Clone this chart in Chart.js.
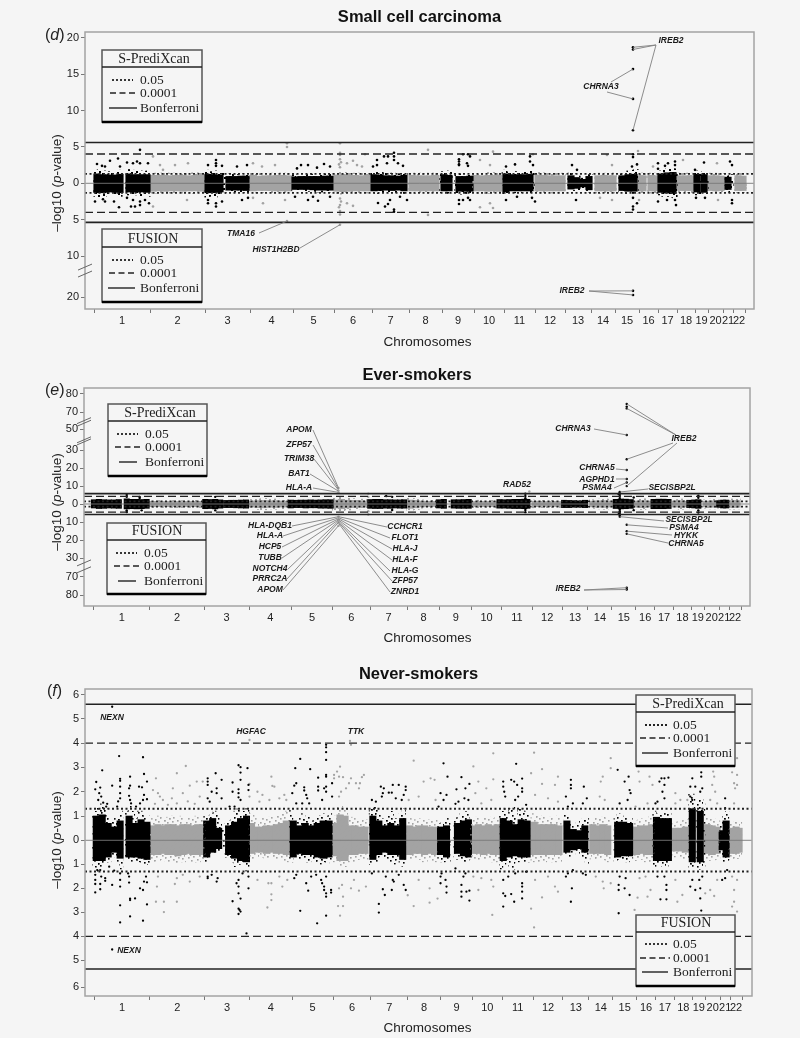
<!DOCTYPE html>
<html>
<head>
<meta charset="utf-8">
<title>Manhattan plots</title>
<script src="https://cdn.jsdelivr.net/npm/chart.js@4"></script>
<style>
body { margin: 0; background: #f5f5f5; }
canvas { position: absolute; left: 0; }
</style>
</head>
<body>
<canvas id="panelD" width="800" height="350" style="top:0"></canvas>
<canvas id="panelE" width="800" height="291" style="top:356px"></canvas>
<canvas id="panelF" width="800" height="380" style="top:657px"></canvas>
<script>
// chromosome boundaries along the genome axis
const chromStarts = [0, 56, 111, 156, 199, 240, 278, 315, 348, 380, 410, 441, 471, 497, 521, 545, 564, 583, 601, 614, 629, 639, 651];
const chromNames = ["1","2","3","4","5","6","7","8","9","10","11","12","13","14","15","16","17","18","19","20","21","22"];

// y axis ticks
const dTicks = [20, 15, 10, 5, 0, -5, -10, -20];
const eTicks = [80, 70, 50, 30, 20, 10, 0, -10, -20, -30, -70, -80];
const fTicks = [6, 5, 4, 3, 2, 1, 0, -1, -2, -3, -4, -5, -6];

// y axis is broken, [value, page y]
const dKnots = [[20.8, 32], [0, 183.3], [-10, 256], [-20, 297], [-23, 309]];
const eKnots = [[83.3, 388], [70, 412], [50, 429.3], [30, 450.3], [0, 504], [-30, 558.3], [-70, 576.7], [-86, 606]];
const fKnots = [[6.23, 689], [0, 840.3], [-5, 960.3], [-5.3, 969], [-6, 987], [-6.35, 996]];

// significance lines
const dLines = { dotted: [1.3, -1.33], dashed: [4.03, -4], solid: [5.6, -5.37] };
const eLines = { dotted: [1.5, -1.5], dashed: [4.3, -4.5], solid: [5.8, -5.8] };
const fLines = { dotted: [1.3, -1.3], dashed: [4, -4], solid: [5.6, -5.3] };

// outer envelope of the point clouds as [x, low, high]
const dCoreBlack = [[2,-1.8,1.8],[6,-1.9,1.9],[10,-1.8,1.7],[14,-1.7,1.6],[18,-1.6,1.5],[22,-1.7,1.6],[26,-1.8,1.8],
  [34,-1.6,1.9],[38,-1.7,1.8],[42,-1.6,1.7],[46,-1.7,1.7],[50,-1.7,1.6],[54,-1.8,1.7],
  [113,-1.9,1.8],[117,-1.8,1.6],[121,-1.9,1.7],[125,-1.7,1.5],[129,-1.5,1.4],[133,-1.2,1.2],[137,-1.2,1.3],[141,-1.2,1.2],[145,-1.2,1.2],[149,-1.2,1.3],[153,-1.2,1.3],
  [200,-1.1,1.2],[204,-1,1.1],[208,-1.1,1.2],[212,-1.1,1.2],[216,-1.1,1.3],[220,-1.1,1.2],[224,-1.2,1.2],[228,-1.2,1.2],[232,-1.2,1.3],[236,-1.2,1.3],
  [279,-1.3,1.6],[283,-1.4,1.5],[287,-1.3,1.5],[291,-1.2,1.4],[295,-1.2,1.3],[299,-1.3,1.4],[303,-1.2,1.3],[307,-1.2,1.3],[311,-1.4,1.5],
  [348,-1.3,1.6],[352,-1.4,1.7],[356,-1.3,1.5],[363,-1.4,1.2],[367,-1.5,1.3],[371,-1.4,1.2],[375,-1.4,1.3],
  [411,-1.5,1.8],[415,-1.3,1.5],[419,-1.3,1.6],[423,-1.3,1.6],[427,-1.3,1.6],[431,-1.3,1.6],[435,-1.3,1.6],[438,-1.3,1.8],
  [476,-1,1.4],[480,-1,1.3],[484,-0.9,1],[488,-0.7,0.7],[492,-1,1.1],[496,-1.2,1.2],
  [527,-1.2,1.3],[531,-1.4,1.5],[535,-1.4,1.7],[539,-1.4,1.8],[542,-1.2,1.9],
  [566,-1.6,1.7],[570,-1.8,1.9],[574,-1.8,2],[578,-1.9,2],[581,-2,2],
  [602,-1.6,1.7],[605,-1.5,1.5],[610,-1.7,1.6],[612,-1.6,1.6],
  [633,-1,1],[637,-1.4,1.2]];
const dCoreGray = [[59,-1.35,1.4],[65,-1.35,1.4],[71,-1.4,1.45],[77,-1.35,1.4],[83,-1.35,1.4],[89,-1.35,1.4],[95,-1.4,1.4],[101,-1.35,1.45],[107,-1.35,1.4],
  [159,-1.35,1.4],[165,-1.3,1.35],[171,-1.3,1.35],[177,-1.3,1.4],[183,-1.35,1.4],[189,-1.35,1.4],[195,-1.35,1.4],
  [243,-1.45,1.5],[249,-1.5,1.5],[255,-1.4,1.45],[261,-1.4,1.4],[267,-1.35,1.4],[273,-1.35,1.4],
  [318,-1.4,1.4],[324,-1.4,1.4],[330,-1.35,1.4],[336,-1.35,1.4],[342,-1.35,1.4],
  [382,-1.4,1.45],[388,-1.4,1.4],[394,-1.4,1.5],[400,-1.4,1.5],[405,-1.4,1.5],
  [444,-1.35,1.5],[450,-1.35,1.45],[456,-1.35,1.4],[462,-1.35,1.4],[468,-1.35,1.4],
  [504,-1.35,1.4],[510,-1.35,1.4],[516,-1.35,1.4],[519,-1.35,1.4],
  [546,-1.35,1.4],[549,-1.35,1.4],[557,-1.35,1.4],[561,-1.4,1.4],
  [586,-1.3,1.4],[592,-1.3,1.4],[597,-1.3,1.4],
  [616,-1.3,1.4],[622,-1.4,1.4],[627,-1.3,1.35],
  [644,-1.3,1.4],[649,-1.3,1.4]];
const eCoreBlack = [[0,-2.2,2.4],[5,-2.5,2.6],[10,-2.4,2.4],[15,-2.2,2.3],[20,-2.3,2.3],[25,-2.4,2.5],
  [33,-2.7,2.9],[38,-2.6,2.6],[43,-2.7,2.6],[48,-2.6,2.5],[53,-2.4,2.6],
  [112,-2.6,2.6],[117,-2.5,2.5],[122,-2.7,2.6],[127,-2.3,2.3],[133,-2,2],[138,-2,2.1],[143,-2.1,2.1],[148,-2.2,2.2],[153,-2.3,2.3],
  [198,-2.2,2.2],[203,-2,2.1],[208,-2,2.2],[213,-2.2,2.2],[218,-2.1,2.3],[223,-2.1,2.2],[228,-2.3,2.3],[233,-2.3,2.4],[238,-2.4,2.4],
  [278,-2.4,2.5],[283,-2.5,2.6],[288,-2.5,2.6],[293,-2.3,2.4],[298,-2.4,2.4],[303,-2.2,2.3],[308,-2.3,2.3],[312,-2.3,2.4],
  [347,-2.2,2.4],[352,-2.4,2.6],[362,-2.3,2.4],[367,-2.4,2.4],[372,-2.4,2.5],[377,-2.4,2.6],
  [408,-2.3,2.5],[413,-2.3,2.4],[418,-2.4,2.5],[423,-2.5,2.6],[428,-2.5,2.6],[433,-2.6,2.7],[436,-2.4,2.6],
  [473,-2,2.1],[478,-2,2],[483,-1.8,1.9],[488,-1.8,1.8],[494,-2,2.1],
  [525,-2.5,2.6],[530,-2.7,2.8],[535,-2.6,2.7],[540,-2.4,2.5],
  [563,-2.6,2.6],[568,-2.6,2.7],[573,-2.6,2.7],[578,-2.5,2.6],
  [599,-2,2.1],[604,-2.2,2.3],[608,-2.4,2.4],
  [629,-1.8,1.9],[633,-2.2,2.2],[636,-2.2,2.2]];
const eCoreGray = [[59,-2,2],[65,-2,2],[71,-1.9,2],[77,-1.9,1.9],[83,-2,2],[89,-2,1.9],[95,-1.9,1.9],[101,-2,2],[107,-2,2],
  [159,-2.6,2.5],[165,-3,2.8],[171,-3.2,3.1],[177,-2.7,2.6],[183,-2.9,2.8],[189,-2.6,2.6],[195,-2.5,2.4],
  [243,-3.4,3.4],[249,-4,4],[255,-3.3,3.2],[261,-3,3],[267,-2.7,2.7],[273,-2.6,2.5],
  [318,-3.5,3.2],[324,-3.1,3],[330,-2.3,2.3],[336,-2.1,2.1],[342,-2,2.1],
  [382,-2,2],[388,-2.1,2.1],[394,-2,2],[400,-2,2],[405,-2.1,2],
  [444,-2.1,2.2],[450,-2,2.1],[456,-2,2],[462,-2,2],[468,-2,2],
  [502,-2.4,2.4],[508,-2.7,2.7],[514,-2.9,2.8],[519,-2.6,2.6],
  [546,-2.7,2.6],[552,-3,2.9],[558,-2.6,2.5],[561,-2.2,2.2],
  [585,-2.5,2.5],[591,-2.9,2.8],[596,-2.3,2.3],
  [616,-2.3,2.3],[622,-2.7,2.7],[627,-2.3,2.3],
  [642,-2.8,2.8],[647,-2.7,2.8]];
const fCoreBlack = [[0,-1.1,1.3],[3,-1.3,1.4],[6,-1.1,1.5],[9,-1,1.4],[12,-0.9,1.3],[15,-0.9,0.9],[18,-0.7,0.9],[21,-0.6,0.9],[24,-0.9,1],[27,-1.2,1.2],
  [33,-0.8,1.2],[36,-0.8,1.4],[39,-0.9,1.2],[42,-0.9,0.9],[45,-0.9,1.2],[48,-1,1.2],[51,-1,1],[54,-1,1],
  [112,-0.9,1.1],[115,-0.7,1],[118,-0.6,1.1],[121,-0.6,1.2],[124,-0.5,1.1],[127,-0.5,0.7],[130,-0.5,0.5],[133,-0.7,0.7],[136,-0.8,0.8],[139,-0.9,0.9],[142,-1.1,1.2],[145,-1,1.3],[148,-1,1.3],[151,-1,1.2],[154,-1.3,1.4],
  [198,-0.9,1.3],[201,-0.7,0.7],[204,-0.8,0.8],[207,-0.8,0.9],[210,-0.7,1.1],[213,-0.9,0.9],[216,-0.9,1],[219,-0.8,0.8],[222,-0.9,0.9],[225,-0.9,1],[228,-1,1],[231,-0.9,1.1],[234,-1,1],[237,-0.8,1.1],
  [278,-1,1.4],[281,-1,1.4],[284,-0.9,1.4],[287,-0.7,1.1],[290,-0.7,0.9],[293,-0.7,0.9],[296,-0.8,1],[299,-0.9,1.2],[302,-1,0.9],[305,-0.8,0.9],[308,-1,1.1],[311,-1.1,1.3],
  [347,-0.8,0.7],[350,-0.9,0.8],[353,-0.9,0.8],[356,-1,0.9],[363,-0.7,0.9],[366,-0.8,1],[369,-0.8,1.1],[372,-0.9,1.1],[375,-0.9,1.2],
  [409,-1.2,1.3],[412,-1,1.3],[415,-0.8,1],[418,-1.1,1.3],[421,-1.2,1.4],[424,-0.9,0.9],[427,-0.9,1.3],[430,-0.9,1.3],[433,-0.9,1.2],[436,-0.9,1.1],
  [474,-0.6,1.1],[477,-0.7,1],[480,-0.6,0.7],[483,-0.5,0.4],[486,-0.6,0.8],[489,-0.4,0.5],[492,-0.7,0.9],[495,-1,0.9],
  [524,-0.9,0.9],[527,-0.8,1.1],[530,-0.8,1],[533,-0.8,0.9],[536,-0.9,1],[539,-0.8,0.9],
  [563,-1.1,1.2],[566,-1,1.1],[569,-0.9,1.1],[572,-1.1,1.1],[575,-1.1,1.1],[578,-1,1.1],
  [599,-1.2,1.9],[602,-1.1,1.9],[607,-1.2,1.7],[610,-1.2,1.7],[612,-1.1,1.5],
  [630,-0.6,0.6],[633,-0.9,1],[636,-0.9,1.2]];
const fCoreGray = [[59,-0.9,0.9],[64,-0.85,1],[69,-0.8,0.95],[74,-0.9,0.95],[79,-0.85,1],[84,-0.95,0.9],[89,-0.9,1],[94,-0.8,0.95],[99,-0.9,0.95],[104,-0.9,1],[109,-0.85,1],
  [158,-0.8,1.1],[163,-0.7,0.9],[168,-0.7,0.9],[173,-0.8,0.9],[178,-0.7,0.95],[183,-0.8,1],[188,-0.8,1.1],[193,-0.9,1.2],
  [242,-0.9,1],[247,-1.1,1.4],[252,-1.1,1.3],[257,-0.9,0.95],[262,-0.9,0.9],[267,-0.8,0.85],[272,-0.8,0.85],
  [317,-0.85,0.9],[322,-0.8,0.85],[327,-0.8,0.9],[332,-0.9,0.9],[337,-0.8,0.85],[342,-0.9,0.85],
  [381,-0.8,0.9],[386,-0.8,0.95],[391,-0.85,0.9],[396,-0.8,0.95],[401,-0.9,0.9],[405,-0.9,1],
  [442,-0.9,1.1],[447,-0.9,1],[452,-0.9,0.95],[457,-0.85,0.95],[462,-0.9,1],[467,-0.9,0.9],
  [501,-0.8,0.95],[506,-0.8,0.9],[511,-0.8,0.95],[516,-0.9,0.9],
  [545,-0.85,0.8],[549,-0.8,0.9],[555,-0.9,0.9],[560,-0.9,1],
  [584,-0.7,0.75],[589,-0.7,0.8],[594,-0.8,0.85],
  [616,-0.8,0.95],[621,-0.85,0.9],[626,-0.8,0.8],
  [640,-0.8,0.7],[645,-0.75,0.75],[648,-0.75,0.75]];

// solid middle of the clouds as [x, low, high]
const dSolidBlack = [[3,-1.3,1.3],[9,-1.3,1.2],[15,-1.2,1.15],[21,-1.2,1.15],[26,-1.3,1.25],[35,-1.2,1.3],[41,-1.2,1.2],[47,-1.2,1.2],[53,-1.25,1.2],
  [114,-1.3,1.25],[120,-1.3,1.2],[126,-1.2,1.1],[135,-0.95,0.95],[141,-0.95,0.95],[147,-0.95,1],[152,-1,1],
  [201,-0.85,0.9],[207,-0.85,0.95],[213,-0.85,0.95],[219,-0.9,0.95],[225,-0.95,0.95],[231,-0.95,1],[236,-0.95,1],
  [280,-1.05,1.2],[286,-1,1.1],[292,-0.95,1.05],[298,-1,1.05],[304,-0.95,1],[310,-1.05,1.1],
  [350,-1.05,1.2],[355,-1.05,1.1],[365,-1.1,0.95],[371,-1.1,0.95],[376,-1.1,1],
  [412,-1.15,1.3],[418,-1.05,1.2],[424,-1.05,1.2],[430,-1.05,1.2],[436,-1.05,1.25],
  [477,-0.8,1.05],[483,-0.7,0.8],[489,-0.5,0.55],[495,-0.9,0.95],
  [528,-1,1.05],[534,-1.1,1.2],[540,-1.1,1.25],
  [567,-1.25,1.3],[573,-1.35,1.45],[579,-1.4,1.5],
  [603,-1.2,1.25],[610,-1.25,1.2],
  [634,-0.85,0.85]];
const dSolidGray = [[59,-1.1,1.1],[65,-1.05,1.1],[71,-1.1,1.1],[77,-1.05,1.05],[83,-1.05,1.1],[89,-1.1,1.1],[95,-1.05,1.05],[101,-1.05,1.1],[107,-1.1,1.1],
  [159,-1.05,1.1],[165,-1,1],[171,-1,1.05],[177,-1,1.05],[183,-1.05,1.1],[189,-1.05,1.1],[195,-1.05,1.05],
  [243,-1.1,1.15],[249,-1.15,1.2],[255,-1.1,1.1],[261,-1.05,1.1],[267,-1.05,1.05],[273,-1.05,1.1],
  [318,-1.05,1.1],[324,-1.05,1.05],[330,-1.05,1.05],[336,-1.05,1.05],[342,-1.05,1.1],
  [382,-1.05,1.1],[388,-1.05,1.05],[394,-1.1,1.1],[400,-1.05,1.1],[405,-1.1,1.15],
  [444,-1.05,1.15],[450,-1.05,1.1],[456,-1.05,1.05],[462,-1.05,1.05],[468,-1.05,1.05],
  [504,-1.05,1.05],[510,-1.05,1.1],[516,-1.05,1.05],[519,-1.05,1.05],
  [546,-1.05,1.05],[549,-1.05,1.05],[557,-1.05,1.1],[561,-1.05,1.05],
  [586,-1,1.05],[592,-1,1.05],[597,-1,1.05],
  [616,-1,1.05],[622,-1.05,1.05],[627,-1,1],
  [644,-1,1.05],[649,-1,1]];
const eSolidGray = [[59,-1.5,1.5],[65,-1.4,1.5],[71,-1.4,1.4],[77,-1.4,1.4],[83,-1.5,1.4],[89,-1.5,1.4],[95,-1.4,1.4],[101,-1.4,1.5],[107,-1.5,1.5],
  [159,-1.7,1.7],[165,-2,1.9],[171,-2.1,2],[177,-1.8,1.8],[183,-1.9,1.9],[189,-1.7,1.7],[195,-1.6,1.6],
  [243,-2.2,2.2],[249,-2.6,2.6],[255,-2.2,2.1],[261,-2,2],[267,-1.8,1.8],[273,-1.7,1.7],
  [318,-2.4,2.2],[324,-2.1,2],[330,-1.6,1.6],[336,-1.5,1.5],[342,-1.4,1.5],
  [382,-1.4,1.4],[388,-1.5,1.5],[394,-1.4,1.4],[400,-1.4,1.4],[405,-1.5,1.4],
  [444,-1.5,1.6],[450,-1.4,1.5],[456,-1.4,1.4],[462,-1.4,1.4],[468,-1.4,1.4],
  [502,-1.6,1.6],[508,-1.8,1.8],[514,-1.9,1.9],[519,-1.7,1.7],
  [546,-1.8,1.7],[552,-2,1.9],[558,-1.7,1.7],[561,-1.5,1.5],
  [585,-1.7,1.7],[591,-1.9,1.9],[596,-1.6,1.6],
  [616,-1.6,1.6],[622,-1.8,1.8],[627,-1.6,1.6],
  [642,-1.9,1.9],[647,-1.8,1.9]];
const fSolidBlack = [[2,-0.85,1],[8,-0.85,1.05],[14,-0.7,0.7],[20,-0.5,0.55],[26,-0.75,0.8],[35,-0.7,1],[41,-0.7,0.7],[47,-0.75,0.85],[53,-0.8,0.75],
  [113,-0.7,0.8],[119,-0.5,0.9],[125,-0.35,0.5],[135,-0.6,0.6],[141,-0.75,0.75],[147,-0.85,0.9],[153,-0.9,1],
  [200,-0.7,0.8],[206,-0.55,0.6],[212,-0.6,0.7],[218,-0.6,0.6],[224,-0.7,0.7],[230,-0.75,0.8],[236,-0.7,0.8],
  [280,-0.8,1],[286,-0.6,0.8],[292,-0.5,0.6],[298,-0.6,0.7],[304,-0.6,0.6],[310,-0.8,0.9],
  [348,-0.6,0.55],[354,-0.7,0.6],[365,-0.55,0.7],[371,-0.65,0.8],[376,-0.7,0.85],
  [411,-0.85,0.9],[417,-0.7,0.8],[423,-0.65,0.65],[429,-0.7,0.85],[435,-0.7,0.8],
  [475,-0.5,0.8],[481,-0.4,0.45],[487,-0.35,0.4],[493,-0.5,0.6],
  [526,-0.7,0.75],[532,-0.65,0.75],[538,-0.65,0.7],
  [565,-0.85,0.95],[571,-0.85,0.9],[577,-0.85,0.9],
  [601,-0.9,1.3],[609,-0.9,1.2],
  [631,-0.4,0.4],[635,-0.7,0.8]];
const fSolidGray = [[59,-0.6,0.6],[64,-0.6,0.65],[69,-0.55,0.6],[74,-0.6,0.65],[79,-0.6,0.65],[84,-0.65,0.6],[89,-0.6,0.65],[94,-0.55,0.65],[99,-0.6,0.6],[104,-0.6,0.65],[109,-0.6,0.65],
  [158,-0.55,0.7],[163,-0.5,0.55],[168,-0.5,0.55],[173,-0.55,0.6],[178,-0.5,0.6],[183,-0.55,0.65],[188,-0.55,0.7],[193,-0.6,0.8],
  [242,-0.65,0.7],[247,-0.85,1.05],[252,-0.85,1],[257,-0.6,0.6],[262,-0.6,0.6],[267,-0.55,0.55],[272,-0.55,0.55],
  [317,-0.6,0.6],[322,-0.55,0.55],[327,-0.55,0.6],[332,-0.6,0.6],[337,-0.55,0.55],[342,-0.6,0.55],
  [381,-0.55,0.6],[386,-0.55,0.65],[391,-0.6,0.6],[396,-0.55,0.65],[401,-0.6,0.6],[405,-0.6,0.65],
  [442,-0.6,0.75],[447,-0.6,0.65],[452,-0.6,0.65],[457,-0.6,0.65],[462,-0.6,0.65],[467,-0.6,0.6],
  [501,-0.55,0.65],[506,-0.55,0.6],[511,-0.55,0.65],[516,-0.6,0.6],
  [545,-0.6,0.55],[549,-0.55,0.6],[555,-0.6,0.6],[560,-0.6,0.65],
  [584,-0.45,0.5],[589,-0.45,0.5],[594,-0.5,0.55],
  [616,-0.55,0.65],[621,-0.6,0.6],[626,-0.55,0.55],
  [640,-0.55,0.5],[645,-0.55,0.55],[648,-0.5,0.5]];

// scattered points, [x, value]
const dPointsBlack = [[46,4.6],[24,3.4],[16,3.1],[43,3],[46,2.75],[54,2.75],[3,2.66],[33,2.85],[39,2.75],[8,2.4],[11,2.3],[26,2.3],
  [122,3.2],[122,2.75],[122,2.4],[114,2.5],[128,2.4],[153,2.5],[143,2.3],[207,2.5],[214,2.5],[230,2.65],[203,2.05],[223,2.15],[236,2.3],
  [290,3.7],[294,3.7],[300,4.2],[300,3.7],[300,3.2],[283,3.2],[283,2.5],[293,2.75],[304,2.75],[309,2.4],[279,2.3],
  [1,-2.5],[11,-2.5],[20,-2.5],[25,-3.3],[37,-3.2],[41,-3.2],[46,-2.5],[46,-3],[55,-2.75],[9,-2.2],[33,-2],[39,-2.3],[51,-2.3],
  [114,-2.3],[114,-2.75],[122,-3.2],[122,-2.75],[128,-2.5],[148,-2.3],[154,-2],[201,-1.85],[214,-2.3],[224,-2.4],[219,-1.85],[236,-1.85],
  [300,-3.6],[300,-3.9],[284,-2.7],[291,-3.2],[294,-2.85],[296,-2.3],[313,-2.3],[306,-1.85],
  [365,3.3],[365,3],[365,2.6],[365,2.5],[369,4],[374,4],[376,3.7],[373,2.75],[374,2.4],[365,-2.3],[365,-2.85],[369,-2.3],[374,-2],[376,-2.3],
  [421,2.6],[436,3.7],[436,3],[439,2.5],[412,2.3],[412,-2.3],[438,-2],[441,-2.5],[423,-1.85],[478,2.5],[483,1.85],[482,-2.3],
  [539,18.7],[539,18.4],[539,15.7],[539,11.6],[539,7.3],[539,-18.5],[539,-19.5],
  [539,4],[539,3.6],[543,2.6],[538,2.3],[539,-3.2],[539,-3.6],[543,-2.75],[539,-2],
  [564,2.75],[564,2],[571,2.4],[574,2.75],[581,3],[581,2.5],[564,-2.5],[573,-2.3],[581,-2.3],[582,-3],
  [610,2.85],[601,1.85],[602,-2],[611,-2],[636,3],[638,2.5],[638,-2.75],[638,-2.3]];
const dPointsGray = [[193,5.5],[193,5],[193,-5.2],[246,5.5],[246,4.2],[246,3.9],[246,3.3],[247,2.9],[245,2.6],[246,2.2],[246,-2.1],[247,-2.5],[246,-3],[245,-3.3],[246,-3.8],[246,-4.3],[246,-5.7],
  [59,3.7],[66,2.5],[81,2.5],[94,2.75],[69,1.85],[159,2.75],[168,2.3],[181,2.5],[271,4],[253,2.75],[259,3.1],[263,2.5],[268,2.3],
  [59,-3.2],[93,-2.3],[169,-2.75],[159,-2],[191,-2.3],[253,-2.75],[259,-3.1],
  [334,-4.35],[334,4.6],[399,4.35],[386,3.2],[396,2.5],[386,-3.3],[399,-3.4],[396,-2.75],[439,4],[513,3.9],[518,2.5],[506,-2],[518,-2.3],[544,4.45],[545,-2.3],[589,3.2],[559,2.3],[623,2.75],[624,-2.3]];
const ePointsBlack = [[536,74.5],[536,73],[536,72],[536,44.6],[536,25],[536,19],[536,14],[536,12],[536,10],[529,6.7],[529,-7],[536,-11.5],[536,-15],[536,-16.5],[536,-76],[536,-77],
  [33,5],[33,4],[33,-3.5],[33,-4.4],[46,4],[46,3.4],[48,-3.5],[122,4],[122,-3.5],[294,4.5],[300,4],[300,-3.3],[434,5.7],[434,4.5],[434,3.2],[434,-3.3],[434,-4.5],
  [529,6.5],[529,5],[529,4],[529,3],[529,-3],[529,-4],[529,-5],[529,-6.3],[528,5.5],[528,-5.5],[608,4.7],[608,3.5],[608,-3.5],[608,-4.7],[543,3.6],[543,-3.4]];
const ePointsGray = [[438,7],[246,9],[246,7.5],[246,6.5],[246,-7],[246,-8.5],[246,-10],[246,-12],[276,5.8],[276,4],[276,-4],[276,-5.8]];
const fPointsBlack = [[18,5.5],[25,3.47],[8,2.88],[2,2.4],[18,2.25],[26,2.53],[26,2.45],[1,2.1],[6,2.17],[5,1.94],[7,1.8],[4,1.66],[9,1.55],[13,1.5],[12,1.39],[24,1.6],[23,1.39],[26,1.94],[26,1.73],[26,2.21],[36,2.62],[36,2.25],[35,2.14],[35,1.83],[36,1.66],[37,1.52],[45,2.21],[48,2.18],[49,3.42],[50,2.73],[53,2.42],[50,1.87],[53,1.69],[49,1.66],[46,1.52],[42,1.39],
  [18,-4.55],[1,-1.44],[1,-1.65],[1,-1.82],[1,-2.17],[7,-1.51],[6,-1.82],[6,-2.04],[11,-1.58],[11,-1.69],[18,-1.86],[26,-1.38],[26,-1.65],[26,-1.93],[26,-2.71],[26,-3.42],[34,-1.38],[35,-1.51],[35,-1.76],[36,-2.43],[36,-2.49],[41,-2.42],[36,-3.17],[46,-2],[49,-2.07],[53,-2.67],[49,-3.35],[52,-1.51],[53,-1.75],[50,-1.72],[15,-1.1],[20,-1.26],[6,-1.24],[3,-1.24],
  [114,2.55],[114,2.42],[114,2.28],[122,2.76],[128,2.49],[123,2.14],[118,2],[114,1.73],[116,1.59],[123,1.94],[128,1.73],[139,2.38],[145,3.09],[147,3.01],[154,2.97],[147,2.79],[147,2.49],[145,2.1],[145,1.94],[145,1.77],[139,2],[147,1.66],[136,1.39],[141,1.39],[155,2.07],[155,2.28],
  [114,-1.51],[114,-1.58],[118,-1.44],[123,-1.72],[124,-1.58],[139,-2.54],[145,-2.85],[146,-2.9],[145,-3.07],[147,-2.97],[153,-3.88],[145,-2.21],[147,-2.43],[145,-1.93],[143,-1.79],[145,-1.65],[155,-2],[155,-1.51],[149,-1.38],
  [207,3.35],[202,2.97],[217,2.93],[203,2.35],[201,2.25],[199,1.94],[211,2.18],[211,2.05],[213,1.87],[214,1.73],[233,3.93],[233,3.83],[233,3.63],[233,3.31],[233,2.69],[233,2.62],[225,2.58],[225,2.21],[225,2.05],[233,2.21],[231,2.14],[233,2],[239,2.35],[239,1.8],[229,1.66],[203,1.52],[209,1.52],[216,1.52],
  [207,-2.94],[224,-3.46],[233,-3.14],[233,-2.35],[233,-2.21],[231,-2.07],[231,-1.93],[238,-2.07],[238,-2.18],[215,-2.1],[201,-1.58],[203,-1.44],[213,-1.79],[218,-1.51],[223,-1.44],[228,-1.65],[229,-1.79],[233,-1.51],
  [288,2.21],[291,2.14],[290,1.94],[296,1.96],[299,1.96],[300,2.28],[306,2.28],[313,2.21],[313,2.07],[311,1.87],[303,1.73],[279,1.66],[283,1.59],[289,1.8],[309,1.66],
  [286,-2.65],[286,-3.01],[290,-2.04],[292,-2.28],[299,-2.07],[300,-1.65],[301,-1.72],[311,-1.86],[313,-2.07],[293,-1.51],[279,-1.38],[306,-1.44],
  [351,3.17],[355,2.62],[348,1.94],[354,1.87],[346,1.39],[351,1.66],[354,-2.18],[354,-1.93],[348,-1.79],[348,-1.51],[353,-1.65],[349,-1.38],
  [369,2.6],[364,2.1],[373,2.14],[377,2.32],[363,1.5],[366,1.59],[372,1.73],[376,1.66],[369,-1.86],[369,-2.14],[369,-2.35],[374,-2.14],[377,-2.1],[377,-2.51],[371,-1.51],[363,-1.17],[373,-1.38],
  [424,3.15],[411,2.42],[411,2.21],[412,2],[419,2.49],[422,2.42],[425,2.28],[430,2.54],[430,2.14],[430,2],[423,1.66],[426,1.8],[434,1.46],[413,1.8],
  [411,-2.21],[413,-2.32],[411,-2.76],[419,-2.24],[422,-2.56],[430,-1.79],[430,-1.93],[430,-2.14],[430,-2.42],[411,-1.65],[416,-1.51],[423,-1.38],[434,-1.31],
  [479,2.49],[479,2.28],[479,2.14],[474,1.8],[481,1.52],[492,2.21],[495,1.73],[476,1.39],[491,1.52],[479,-2.56],[480,-2],[474,-1.51],[476,-1.38],[481,-1.24],[494,-1.44],[491,-1.38],
  [526,2.9],[537,2.62],[533,2.42],[539,1.94],[538,2.07],[536,1.66],[528,1.52],[527,-3.04],[527,-1.86],[527,-2.07],[533,-2],[538,-2.28],[534,-1.58],[528,-1.51],
  [570,2.55],[573,2.55],[577,2.58],[568,2.42],[573,2.28],[571,2],[573,1.73],[564,1.52],[566,1.59],[569,-2.46],[575,-2.46],[575,-2.07],[575,-1.86],[566,-1.51],[573,-1.51],
  [610,2.8],[610,2.62],[601,2.55],[599,2.21],[604,2.21],[609,2],[611,2.14],[599,1.8],[601,1.66],[610,-2.93],[609,-2.42],[599,-1.93],[604,-2.07],[609,-2],[601,-1.65],[608,-1.65],[611,-1.51],
  [634,1.73],[634,1.32],[631,-1.65],[634,-1.58],[636,-1.24]];
const fPointsGray = [[92,3.06],[62,2.55],[83,2.76],[79,2.14],[96,2.25],[109,2.42],[103,2.42],[59,2.07],[64,1.94],[69,1.66],[89,1.94],[106,1.8],[66,1.8],[83,1.52],[61,1.5],[74,1.46],[94,1.6],[101,1.5],[78,1.73],
  [70,-2.99],[70,-2.56],[62,-2.56],[83,-2.56],[63,-1.93],[64,-1.51],[81,-1.82],[96,-1.72],[83,-1.58],[106,-1.51],[89,-1.44],
  [156,4.13],[178,2.62],[179,2.24],[181,2.21],[164,2],[169,1.87],[176,1.66],[191,1.87],[193,1.66],[156,2.32],[156,1.8],[186,1.73],[166,1.59],
  [174,-2.8],[178,-2.49],[178,-2.25],[175,-1.79],[178,-1.79],[164,-1.65],[194,-1.65],[189,-1.93],[186,-1.51],
  [257,4.09],[258,3.93],[247,3.03],[244,2.83],[241,2.69],[246,2.62],[250,2.6],[241,2.55],[258,2.55],[271,2.69],[269,2.6],[256,2.35],[263,2.35],[267,2.35],[266,2.14],[253,2.14],[248,2],[246,1.8],
  [250,-2.35],[245,-2.74],[250,-2.74],[247,-3.14],[249,-1.86],[258,-2],[266,-2.1],[273,-1.93],[246,-2],[261,-1.65],
  [321,3.28],[338,2.55],[331,2.42],[342,2.49],[326,1.8],[316,1.66],[343,1.66],[321,-2.74],[337,-2.6],[345,-2.43],[315,-2.29],[337,-2],[326,-1.65],
  [401,3.58],[381,3.04],[386,2.42],[401,2.51],[394,2.14],[383,1.94],[399,1.66],[389,1.52],[400,-3.11],[386,-2.07],[399,-1.65],[401,-1.93],[389,-1.58],[381,-1.51],
  [442,3.61],[439,2.76],[450,2.93],[466,2.62],[450,2.32],[463,2.28],[443,1.87],[456,1.73],[466,1.59],[442,-3.63],[439,-2.85],[450,-2.38],[463,-1.93],[466,-2.14],[443,-1.65],[456,-1.51],
  [519,3.38],[519,2.97],[511,2.62],[509,2.42],[508,1.8],[513,1.66],[511,-1.72],[512,-2],[519,-1.79],[504,-1.51],
  [547,2.83],[548,2.42],[544,1.39],[558,2.62],[561,2.28],[556,1.52],[543,-2.9],[546,-2.39],[556,-2.35],[559,-2.07],[548,-1.58],[554,-1.51],
  [584,1.94],[589,1.66],[584,1.52],[596,1.66],[586,-2.56],[591,-2.28],[584,-1.65],
  [622,2.83],[623,2.62],[621,2.28],[624,2],[619,1.66],[626,1.52],[614,-2.21],[623,-2.32],[619,-2.07],[626,-1.65],
  [646,3.38],[646,2.69],[641,2.8],[643,2.35],[646,2.28],[644,2.14],[643,1.52],[646,-2.97],[641,-2.76],[643,-2.56],[643,-2.07],[646,-1.65],[641,-1.51]];

// gene labels: [text, page x, page y]
const dGenes = [["TMA16",241,234],["HIST1H2BD",276,250],["IREB2",671,41],["CHRNA3",601,87],["IREB2",572,291]];
const eGenes = [["APOM",299,430],["ZFP57",299,445],["TRIM38",299,459],["BAT1",299,474],["HLA-A",299,488],
  ["HLA-DQB1",270,526],["HLA-A",270,536],["HCP5",270,547],["TUBB",270,558],["NOTCH4",270,569],["PRRC2A",270,579],["APOM",270,590],
  ["CCHCR1",405,527],["FLOT1",405,538],["HLA-J",405,549],["HLA-F",405,560],["HLA-G",405,571],["ZFP57",405,581],["ZNRD1",405,592],
  ["CHRNA3",573,429],["IREB2",684,439],["CHRNA5",597,468],["AGPHD1",597,480],["PSMA4",597,488],["RAD52",517,485],["SECISBP2L",672,488],
  ["SECISBP2L",689,520],["PSMA4",684,528],["HYKK",686,536],["CHRNA5",686,544],["IREB2",568,589]];
const fGenes = [["NEXN",112,718],["HGFAC",251,732],["TTK",356,732],["NEXN",129,951]];

// leader lines: [page x, page y, genome x, value]
const dLeaders = [[259,233,193,-5.2],[300,248,246,-5.7],[656,45,539,18.7],[656,45,539,18.4],[656,45,539,7.3],[611,82,539,15.7],[607,92,539,11.6],[589,291,539,-18.5],[589,291,539,-19.5]];
const eLeaders = [[313,430,246,9],[313,445,246,8.4],[314,459,246,7.8],[310,474,246,7.2],[313,488,246,6.5],
  [292,526,246,-7],[283,536,246,-7.6],[282,547,246,-8.2],[282,558,246,-8.8],[288,569,246,-9.4],[287,579,246,-10.2],[283,590,246,-12],
  [387,527,246,-7],[390,538,246,-7.6],[392,549,246,-8.2],[392,560,246,-8.8],[390,571,246,-9.4],[392,581,246,-10],[390,592,246,-10.6],
  [594,429,536,44.6],[676,435,536,74.5],[676,435,536,72],[673,443,536,25],[677,443,536,10],[616,469,536,19],[616,479,536,14],[614,488,536,12],[648,489,529,6.7],
  [664,521,529,-7],[668,528,536,-11.5],[672,535,536,-15],[668,543,536,-16.5],[584,590,536,-76],[584,590,536,-77]];
const fLeaders = [];

// axis break marks, values on the y axis
const dBreaks = [-12.7, -14.4];
const eBreaks = [60, 57, 40, 38, -40, -55];
const fBreaks = [];

// speckle tile used to fill the thin outer part of the clouds
const speckleDots = [[1,2],[5,1],[9,3],[14,1],[18,4],[23,2],[27,0],[31,3],[35,1],[3,6],[7,7],[12,5],[16,8],[21,6],[25,5],[29,8],[33,6],[1,10],[5,11],[10,9],[14,12],[19,10],[24,9],[27,12],[32,10],[36,12],
  [3,14],[8,13],[12,16],[17,14],[22,13],[25,16],[30,14],[34,15],[0,18],[6,17],[10,19],[15,18],[20,17],[24,20],[28,18],[33,19],[2,22],[7,21],[12,23],[17,21],[21,23],[26,22],[31,23],[36,21],[4,26],[9,25],[14,27],[19,25],[23,27],[28,26],[33,26],[1,28],[6,29],[11,29],[16,29],[21,30],[26,29],[30,29],[35,29]];
function speckle(color, size) {
	const tile = document.createElement("canvas");
	tile.width = 37;
	tile.height = 31;
	const c = tile.getContext("2d");
	c.fillStyle = color;
	speckleDots.forEach(function (d) { c.fillRect(d[0], d[1], size, size); });
	return c.createPattern(tile, "repeat");
}

const knotsByCanvas = { panelD: dKnots, panelE: eKnots, panelF: fKnots };
const topByCanvas = { panelD: 0, panelE: 356, panelF: 657 };

// linear scale with piecewise value -> pixel mapping for the broken axes
class BrokenScale extends Chart.LinearScale {
	getPixelForValue(value) {
		const knots = knotsByCanvas[this.chart.canvas.id];
		const top = topByCanvas[this.chart.canvas.id];
		for (let i = 0; i < knots.length - 1; i++) {
			const a = knots[i], b = knots[i + 1];
			if (value <= a[0] && value >= b[0]) {
				return a[1] + (value - a[0]) / (b[0] - a[0]) * (b[1] - a[1]) - top;
			}
		}
		return value > 0 ? knots[0][1] - top : knots[knots.length - 1][1] - top;
	}
}
BrokenScale.id = "broken";
BrokenScale.defaults = Chart.LinearScale.defaults;
Chart.register(BrokenScale);

function toPoints(list) {
	return list.map(function (p) { return { x: p[0], y: p[1] }; });
}
function toBars(list) {
	return list.map(function (b) { return { x: b[0], y: [b[1], b[2]] }; });
}
function drawLegendBox(ctx, box, top) {
	const y = function (v) { return v - top; };
	ctx.save();
	ctx.fillStyle = "#f5f5f5";
	ctx.fillRect(box.x, y(box.y), box.w, box.h);
	ctx.strokeStyle = "#555";
	ctx.lineWidth = 1.5;
	ctx.strokeRect(box.x, y(box.y), box.w, box.h);
	ctx.strokeStyle = "#222";
	ctx.beginPath();
	ctx.moveTo(box.x, y(box.header));
	ctx.lineTo(box.x + box.w, y(box.header));
	ctx.stroke();
	ctx.lineWidth = 2.5;
	ctx.strokeStyle = "#000";
	ctx.beginPath();
	ctx.moveTo(box.x, y(box.y + box.h));
	ctx.lineTo(box.x + box.w, y(box.y + box.h));
	ctx.stroke();
	ctx.fillStyle = "#222";
	ctx.font = "14px 'Liberation Serif'";
	ctx.textAlign = "center";
	ctx.textBaseline = "middle";
	ctx.fillText(box.title, box.titleX, y(box.titleY));
	ctx.font = "13.5px 'Liberation Serif'";
	ctx.textAlign = "left";
	const labels = ["0.05", "0.0001", "Bonferroni"];
	const dashes = [[2, 2], [6, 3.5], []];
	const widths = [1.8, 1.3, 1.4];
	for (let i = 0; i < 3; i++) {
		ctx.strokeStyle = "#222";
		ctx.lineWidth = widths[i];
		ctx.setLineDash(dashes[i]);
		ctx.beginPath();
		ctx.moveTo(box.lines[i][0], y(box.rows[i]));
		ctx.lineTo(box.lines[i][1], y(box.rows[i]));
		ctx.stroke();
		ctx.setLineDash([]);
		ctx.fillText(labels[i], box.textX, y(box.rows[i]));
	}
	ctx.restore();
}

const panelDecor = {
	id: "panelDecor",
	afterDatasetsDraw(chart, args, opts) {
		const p = chart.config._config.panel;
		const ctx = chart.ctx;
		const xs = chart.scales.x, ys = chart.scales.y;
		const area = chart.chartArea;
		ctx.save();
		// frame
		ctx.strokeStyle = "#a3a3a3";
		ctx.lineWidth = 1.5;
		ctx.strokeRect(area.left, area.top, area.right - area.left, area.bottom - area.top);
		// leaders
		ctx.strokeStyle = "#808080";
		ctx.lineWidth = 0.9;
		p.leaders.forEach(function (l) {
			ctx.beginPath();
			ctx.moveTo(l[0], l[1] - p.top);
			ctx.lineTo(xs.getPixelForValue(l[2]), ys.getPixelForValue(l[3]));
			ctx.stroke();
		});
		// gene names
		ctx.fillStyle = "#1a1a1a";
		ctx.font = "italic bold 8.5px 'Liberation Sans'";
		ctx.textAlign = "center";
		ctx.textBaseline = "middle";
		p.genes.forEach(function (g) {
			ctx.fillText(g[0], g[1], g[2] - p.top);
		});
		// axis break marks
		ctx.strokeStyle = "#666";
		ctx.lineWidth = 1;
		p.breaks.forEach(function (v) {
			const py = ys.getPixelForValue(v);
			ctx.beginPath();
			ctx.moveTo(area.left - 7, py + 3);
			ctx.lineTo(area.left + 7, py - 3);
			ctx.stroke();
		});
		p.boxes.forEach(function (b) { drawLegendBox(ctx, b, p.top); });
		// x title
		ctx.fillStyle = "#222";
		ctx.font = "13.5px 'Liberation Sans'";
		ctx.textAlign = "center";
		ctx.fillText("Chromosomes", 427.5, area.bottom + p.xTitleGap);
		// panel letter, with italic middle
		ctx.font = "16px 'Liberation Sans'";
		ctx.textAlign = "left";
		ctx.fillText("(", p.letterX, p.letterY - p.top);
		let lx = p.letterX + ctx.measureText("(").width;
		ctx.font = "italic 16px 'Liberation Sans'";
		ctx.fillText(p.letter, lx, p.letterY - p.top);
		lx += ctx.measureText(p.letter).width;
		ctx.font = "16px 'Liberation Sans'";
		ctx.fillText(")", lx, p.letterY - p.top);
		// y title, italic p
		ctx.translate(57, p.yTitleY - p.top);
		ctx.rotate(-Math.PI / 2);
		ctx.font = "13.5px 'Liberation Sans'";
		const w1 = ctx.measureText("\u2013log10 (").width;
		const w3 = ctx.measureText("-value)").width;
		ctx.font = "italic 13.5px 'Liberation Sans'";
		const w2 = ctx.measureText("p").width;
		let tx = -(w1 + w2 + w3) / 2;
		ctx.font = "13.5px 'Liberation Sans'";
		ctx.fillText("\u2013log10 (", tx, 0);
		tx += w1;
		ctx.font = "italic 13.5px 'Liberation Sans'";
		ctx.fillText("p", tx, 0);
		tx += w2;
		ctx.font = "13.5px 'Liberation Sans'";
		ctx.fillText("-value)", tx, 0);
		ctx.restore();
	},
};

function hLine(value, xMin, xMax, dash, width, color) {
	return {
		type: "line",
		data: [{ x: xMin, y: value }, { x: xMax, y: value }],
		borderColor: color,
		borderWidth: width,
		borderDash: dash,
		pointRadius: 0,
		fill: false,
	};
}

function makePanel(p) {
	const lineSets = [];
	p.lines.solid.forEach(function (v) { lineSets.push(hLine(v, p.xMin, p.xMax, [], 1.6, "#222")); });
	p.lines.dashed.forEach(function (v) { lineSets.push(hLine(v, p.xMin, p.xMax, [8, 4], 1.3, "#222")); });
	p.lines.dotted.forEach(function (v) { lineSets.push(hLine(v, p.xMin, p.xMax, [2, 2.5], 1.8, "#222")); });
	lineSets.push(hLine(0, p.xMin, p.xMax, [], 0.9, "#777"));

	const xTicks = chromStarts.slice();
	const mids = chromNames.map(function (n, i) {
		const end = i + 1 < chromStarts.length ? chromStarts[i + 1] : chromStarts[i] + 12;
		return (chromStarts[i] + end) / 2;
	});
	const midTicks = mids.slice();

	const sets = [
		{ type: "scatter", data: toPoints(p.black), backgroundColor: "#000", borderWidth: 0, pointRadius: p.radius },
		{ type: "scatter", data: toPoints(p.gray), backgroundColor: "#a3a3a3", borderWidth: 0, pointRadius: p.radius },
		{ type: "bar", data: toBars(p.coreBlack), backgroundColor: p.speckleBlack ? speckle("#000", p.speckleSize) : "#000", barThickness: p.blackBar, grouped: false },
		{ type: "bar", data: toBars(p.coreGray), backgroundColor: speckle("#a3a3a3", p.speckleSize), barThickness: p.grayBar, grouped: false },
	];
	if (p.solidBlack) {
		sets.push({ type: "bar", data: toBars(p.solidBlack), backgroundColor: "#000", barThickness: p.solidBar, grouped: false });
	}
	sets.push({ type: "bar", data: toBars(p.solidGray), backgroundColor: "#a3a3a3", barThickness: 6.5, grouped: false });

	return new Chart(document.getElementById(p.id), {
		type: "bar",
		panel: p,
		data: { datasets: lineSets.concat(sets) },
		options: {
			responsive: false,
			animation: false,
			layout: { padding: { left: 0, right: p.right, top: 0, bottom: 0 } },
			plugins: {
				legend: { display: false },
				tooltip: { enabled: false },
				title: {
					display: true,
					text: p.title,
					fullSize: false,
					color: "#111",
					font: { family: "Liberation Sans", size: 16.5, weight: "bold" },
					padding: { top: p.titlePad, bottom: 12.2 - p.titlePad },
				},
			},
			scales: {
				x: {
					type: "linear",
					offset: false,
					min: p.xMin,
					max: p.xMax,
					afterFit(s) { s.height = p.axisHeight; },
					afterBuildTicks(s) {
						s.ticks = xTicks.concat(midTicks).sort(function (a, b) { return a - b; }).map(function (v) { return { value: v }; });
					},
					border: { display: false },
					grid: {
						offset: false,
						drawOnChartArea: false,
						tickLength: 4,
						tickColor(c) { return midTicks.indexOf(c.tick.value) >= 0 ? "rgba(0,0,0,0)" : "#777"; },
					},
					ticks: {
						autoSkip: false,
						maxRotation: 0,
						minRotation: 0,
						padding: 1,
						color: "#222",
						font: { family: "Liberation Sans", size: 11 },
						callback(v) {
							const i = midTicks.indexOf(v);
							return i >= 0 ? chromNames[i] : "";
						},
					},
				},
				y: {
					type: "broken",
					min: p.knots[p.knots.length - 1][0],
					max: p.knots[0][0],
					afterFit(s) { s.width = p.left; },
					afterBuildTicks(s) {
						s.ticks = p.yTicks.map(function (v) { return { value: v }; });
					},
					border: { display: false },
					grid: { drawOnChartArea: false, tickLength: 4, tickColor: "#777" },
					ticks: {
						autoSkip: false,
						padding: 2,
						color: "#222",
						font: { family: "Liberation Sans", size: 11 },
						callback(v) { return String(Math.abs(v)); },
					},
				},
			},
		},
		plugins: [panelDecor],
	});
}

makePanel({
	id: "panelD", top: 0, title: "Small cell carcinoma", titlePad: 8, left: 85, right: 46, axisHeight: 41, xMin: -9, xMax: 660,
	knots: dKnots, yTicks: dTicks, lines: dLines, radius: 1.3, blackBar: 4.5, grayBar: 6.5, solidBar: 6.5, speckleBlack: true, speckleSize: 2,
	coreBlack: dCoreBlack, coreGray: dCoreGray, solidBlack: dSolidBlack, solidGray: dSolidGray, black: dPointsBlack, gray: dPointsGray,
	genes: dGenes, leaders: dLeaders, breaks: dBreaks,
	letter: "d", letterX: 45, letterY: 36, yTitleY: 183, xTitleGap: 33,
	boxes: [
		{ title: "S-PrediXcan", x: 102, y: 50, w: 100, h: 72, header: 67, titleX: 154, titleY: 59, rows: [80, 93, 108], textX: 140, lines: [[112, 133], [110, 137], [109, 137]] },
		{ title: "FUSION", x: 102, y: 229, w: 100, h: 73, header: 247, titleX: 153, titleY: 239, rows: [260, 273, 288], textX: 140, lines: [[112, 133], [109, 136], [108, 135]] },
	],
});
makePanel({
	id: "panelE", top: 356, title: "Ever-smokers", titlePad: 9.6, left: 84, right: 50, axisHeight: 41, xMin: -10, xMax: 660,
	knots: eKnots, yTicks: eTicks, lines: eLines, radius: 1.2, blackBar: 5.4, grayBar: 6.5, speckleBlack: false, speckleSize: 2,
	coreBlack: eCoreBlack, coreGray: eCoreGray, solidGray: eSolidGray, black: ePointsBlack, gray: ePointsGray,
	genes: eGenes, leaders: eLeaders, breaks: eBreaks,
	letter: "e", letterX: 45, letterY: 391, yTitleY: 502, xTitleGap: 32,
	boxes: [
		{ title: "S-PrediXcan", x: 108, y: 404, w: 99, h: 72, header: 421, titleX: 160, titleY: 413, rows: [434, 447, 462], textX: 145, lines: [[117, 138], [115, 140], [119, 137]] },
		{ title: "FUSION", x: 107, y: 523, w: 99, h: 71, header: 540, titleX: 157, titleY: 531, rows: [553, 566, 581], textX: 144, lines: [[116, 137], [114, 139], [118, 136]] },
	],
});
makePanel({
	id: "panelF", top: 657, title: "Never-smokers", titlePad: 8, left: 85, right: 48, axisHeight: 41, xMin: -9.3, xMax: 661,
	knots: fKnots, yTicks: fTicks, lines: fLines, radius: 1.15, blackBar: 3.4, grayBar: 5.4, solidBar: 6.4, speckleBlack: true, speckleSize: 1.6,
	coreBlack: fCoreBlack, coreGray: fCoreGray, solidBlack: fSolidBlack, solidGray: fSolidGray, black: fPointsBlack, gray: fPointsGray,
	genes: fGenes, leaders: fLeaders, breaks: fBreaks,
	letter: "f", letterX: 47, letterY: 692, yTitleY: 840, xTitleGap: 32,
	boxes: [
		{ title: "S-PrediXcan", x: 636, y: 695, w: 99, h: 71, header: 712, titleX: 688, titleY: 704, rows: [725, 738, 753], textX: 673, lines: [[645, 667], [640, 670], [642, 668]] },
		{ title: "FUSION", x: 636, y: 915, w: 99, h: 71, header: 932, titleX: 686, titleY: 923, rows: [944, 958, 972], textX: 673, lines: [[645, 667], [640, 670], [642, 668]] },
	],
});
</script>
</body>
</html>
